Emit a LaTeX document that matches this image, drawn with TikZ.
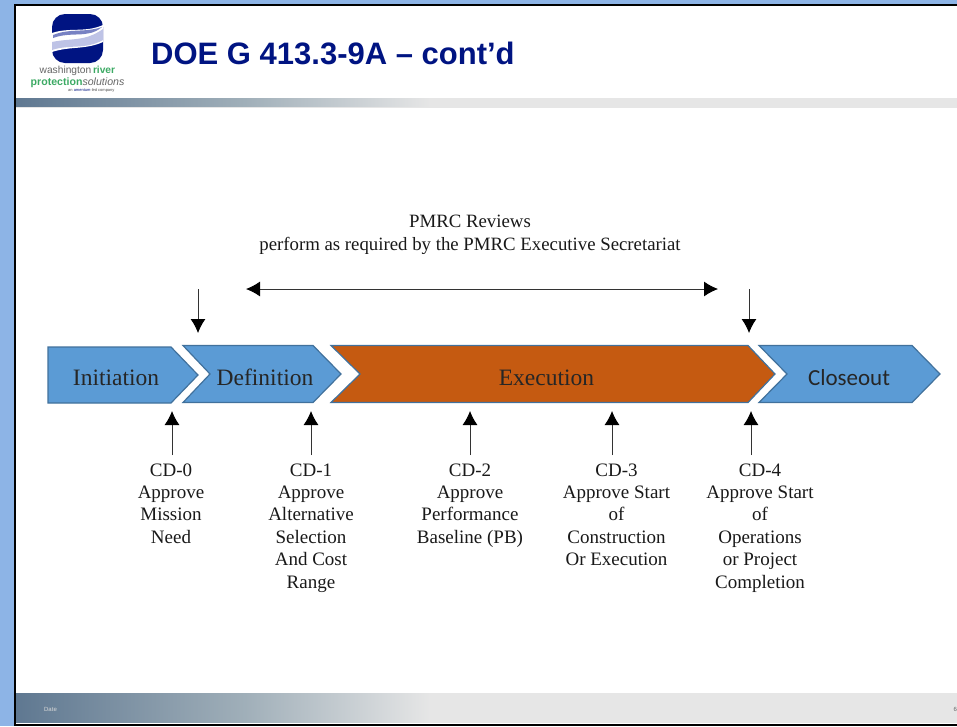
\documentclass[tikz,border=0pt]{standalone}
\usepackage{fontspec}
\usetikzlibrary{arrows.meta}
\setmainfont{Liberation Serif}
\newfontfamily\arialf{Liberation Sans}
\newfontfamily\calf{Carlito}
\definecolor{slideblue}{RGB}{141,180,230}
\definecolor{chevblue}{RGB}{91,155,213}
\definecolor{chevedge}{RGB}{65,113,156}
\definecolor{chevorange}{RGB}{197,90,17}
\definecolor{navy}{RGB}{0,20,130}
\definecolor{bandd}{RGB}{95,120,145}
\definecolor{bandm}{RGB}{160,175,185}
\definecolor{bandl}{RGB}{230,230,230}
\definecolor{wrpgreen}{RGB}{60,170,100}
\definecolor{wavea}{RGB}{120,130,195}
\definecolor{waveb}{RGB}{190,195,230}
\tikzset{
  x=1pt,y=-1pt,
  chev/.style={draw=chevedge,line width=1.2pt,line join=miter},
  chevtext/.style={font=\fontsize{23.5}{25}\selectfont,text=black!85},
  captext/.style={align=center,font=\fontsize{19}{22.4}\selectfont,text=black!90,anchor=north},
  arr/.style={-{Latex[length=14pt,width=15pt,black]},line width=0.9pt,draw=black!80},
  darr/.style={{Latex[length=14pt,width=15pt,black]}-{Latex[length=14pt,width=15pt,black]},line width=0.9pt,draw=black!80},
}
\begin{document}
\begin{tikzpicture}
\useasboundingbox (0,0) rectangle (957,726);
% slide surround
\fill[slideblue] (0,0) rectangle (957,726);
\fill[black] (14,4) rectangle (957,726);
\fill[white] (16,6) rectangle (957,723.5);
% header band
\fill[bandl] (16,98) rectangle (957,107.5);
\shade[left color=bandd,right color=bandm] (16,98) rectangle (245,106.7);
\shade[left color=bandm,right color=bandl] (245,98) rectangle (430,106.7);
% footer band
\fill[bandl] (16,693) rectangle (957,723);
\shade[left color=bandd,right color=bandm] (16,693) rectangle (245,722.7);
\shade[left color=bandm,right color=bandl] (245,693) rectangle (430,722.7);
\node[font=\arialf\fontsize{6}{7}\selectfont,text=white!85!black] (date) at (50.5,709) {Date};
\node[font=\arialf\fontsize{6}{7}\selectfont,text=black!60,anchor=west,inner sep=0pt] (pageno) at (953.5,709) {6};
% logo
\fill[navy,rounded corners=13pt] (52,14) rectangle (103,63);
\fill[white] (52,33) .. controls (70,27) and (85,33) .. (103,25) -- (103,42) .. controls (85,50) and (70,46) .. (52,52) -- cycle;
\fill[wavea] (53,35) .. controls (70,28) and (85,33) .. (102,27) .. controls (88,39) and (72,31) .. (53,38) -- cycle;
\fill[waveb] (52,42) .. controls (70,38) and (85,42) .. (103,29) -- (103,40) .. controls (85,50) and (70,44) .. (52,50) -- cycle;
\node[font=\arialf\fontsize{10.2}{11}\selectfont,anchor=west,inner sep=0pt] (logoa) at (39.5,70.5)
  {\textcolor{black!60}{washington}\,\textcolor{wrpgreen}{\bfseries river}};
\node[font=\arialf\fontsize{10.6}{11}\selectfont,anchor=west,inner sep=0pt] (logob) at (30.5,82.5)
  {\textcolor{wrpgreen}{\bfseries protection}\textcolor{black!60}{\itshape solutions}};
\node[font=\arialf\fontsize{4}{4}\selectfont,anchor=west,inner sep=0pt,text=black!70] (logoc) at (68,90.5)
  {an \textcolor{navy}{amentum}-led company};
% title
\node[font=\arialf\bfseries\fontsize{31}{33}\selectfont,text=navy,anchor=west,inner sep=0pt] (title) at (151,53.5)
  {DOE G 413.3-9A – cont’d};
% PMRC text
\node[font=\fontsize{18.8}{23}\selectfont,align=center,text=black!90] (pmrc) at (470,235)
  {PMRC Reviews\\perform as required by the PMRC Executive Secretariat};
% chevrons
\draw[chev,fill=chevblue] (48,347) -- (171,347) -- (198,375) -- (171,403) -- (48,403) -- cycle;
\draw[chev,fill=chevblue] (183,345.5) -- (313,345.5) -- (341,374) -- (313,402.5) -- (183,402.5) -- (210,374) -- cycle;
\draw[chev,fill=chevorange] (331,345.5) -- (748,345.5) -- (775,374) -- (748,402.5) -- (331,402.5) -- (360,374) -- cycle;
\draw[chev,fill=chevblue] (759,345.5) -- (912,345.5) -- (940,374) -- (912,402.5) -- (759,402.5) -- (787,374) -- cycle;
\node[chevtext] (initiation) at (116,377.5) {Initiation};
\node[chevtext] (definition) at (265,377.5) {Definition};
\node[chevtext] (execution) at (546.5,377.5) {Execution};
\node[chevtext,font=\calf\fontsize{23}{24}\selectfont] (closeout) at (849,377.5) {Closeout};
% captions
\node[captext] (cd0) at (171,460) {CD-0\\Approve\\Mission\\Need};
\node[captext] (cd1) at (311,460) {CD-1\\Approve\\Alternative\\Selection\\And Cost\\Range};
\node[captext] (cd2) at (470,460) {CD-2\\Approve\\Performance\\Baseline (PB)};
\node[captext] (cd3) at (616.5,460) {CD-3\\Approve Start\\of\\Construction\\Or Execution};
\node[captext] (cd4) at (760,460) {CD-4\\Approve Start\\of\\Operations\\or Project\\Completion};
% connectors
\coordinate (t0) at (172,411); \coordinate (f0) at (172,455);
\coordinate (t1) at (311,411); \coordinate (f1) at (311,455);
\coordinate (t2) at (470,411); \coordinate (f2) at (470,455);
\coordinate (t3) at (612,411); \coordinate (f3) at (612,455);
\coordinate (t4) at (751,411); \coordinate (f4) at (751,455);
\draw[arr] (f0) -- (t0);
\draw[arr] (f1) -- (t1);
\draw[arr] (f2) -- (t2);
\draw[arr] (f3) -- (t3);
\draw[arr] (f4) -- (t4);
\coordinate (da) at (198,289); \coordinate (db) at (198,333);
\coordinate (dc) at (749,289); \coordinate (dd) at (749,333);
\draw[arr] (da) -- (db);
\draw[arr] (dc) -- (dd);
\coordinate (ha) at (246,289); \coordinate (hb) at (718,289);
\draw[darr] (ha) -- (hb);
\end{tikzpicture}
\end{document}
